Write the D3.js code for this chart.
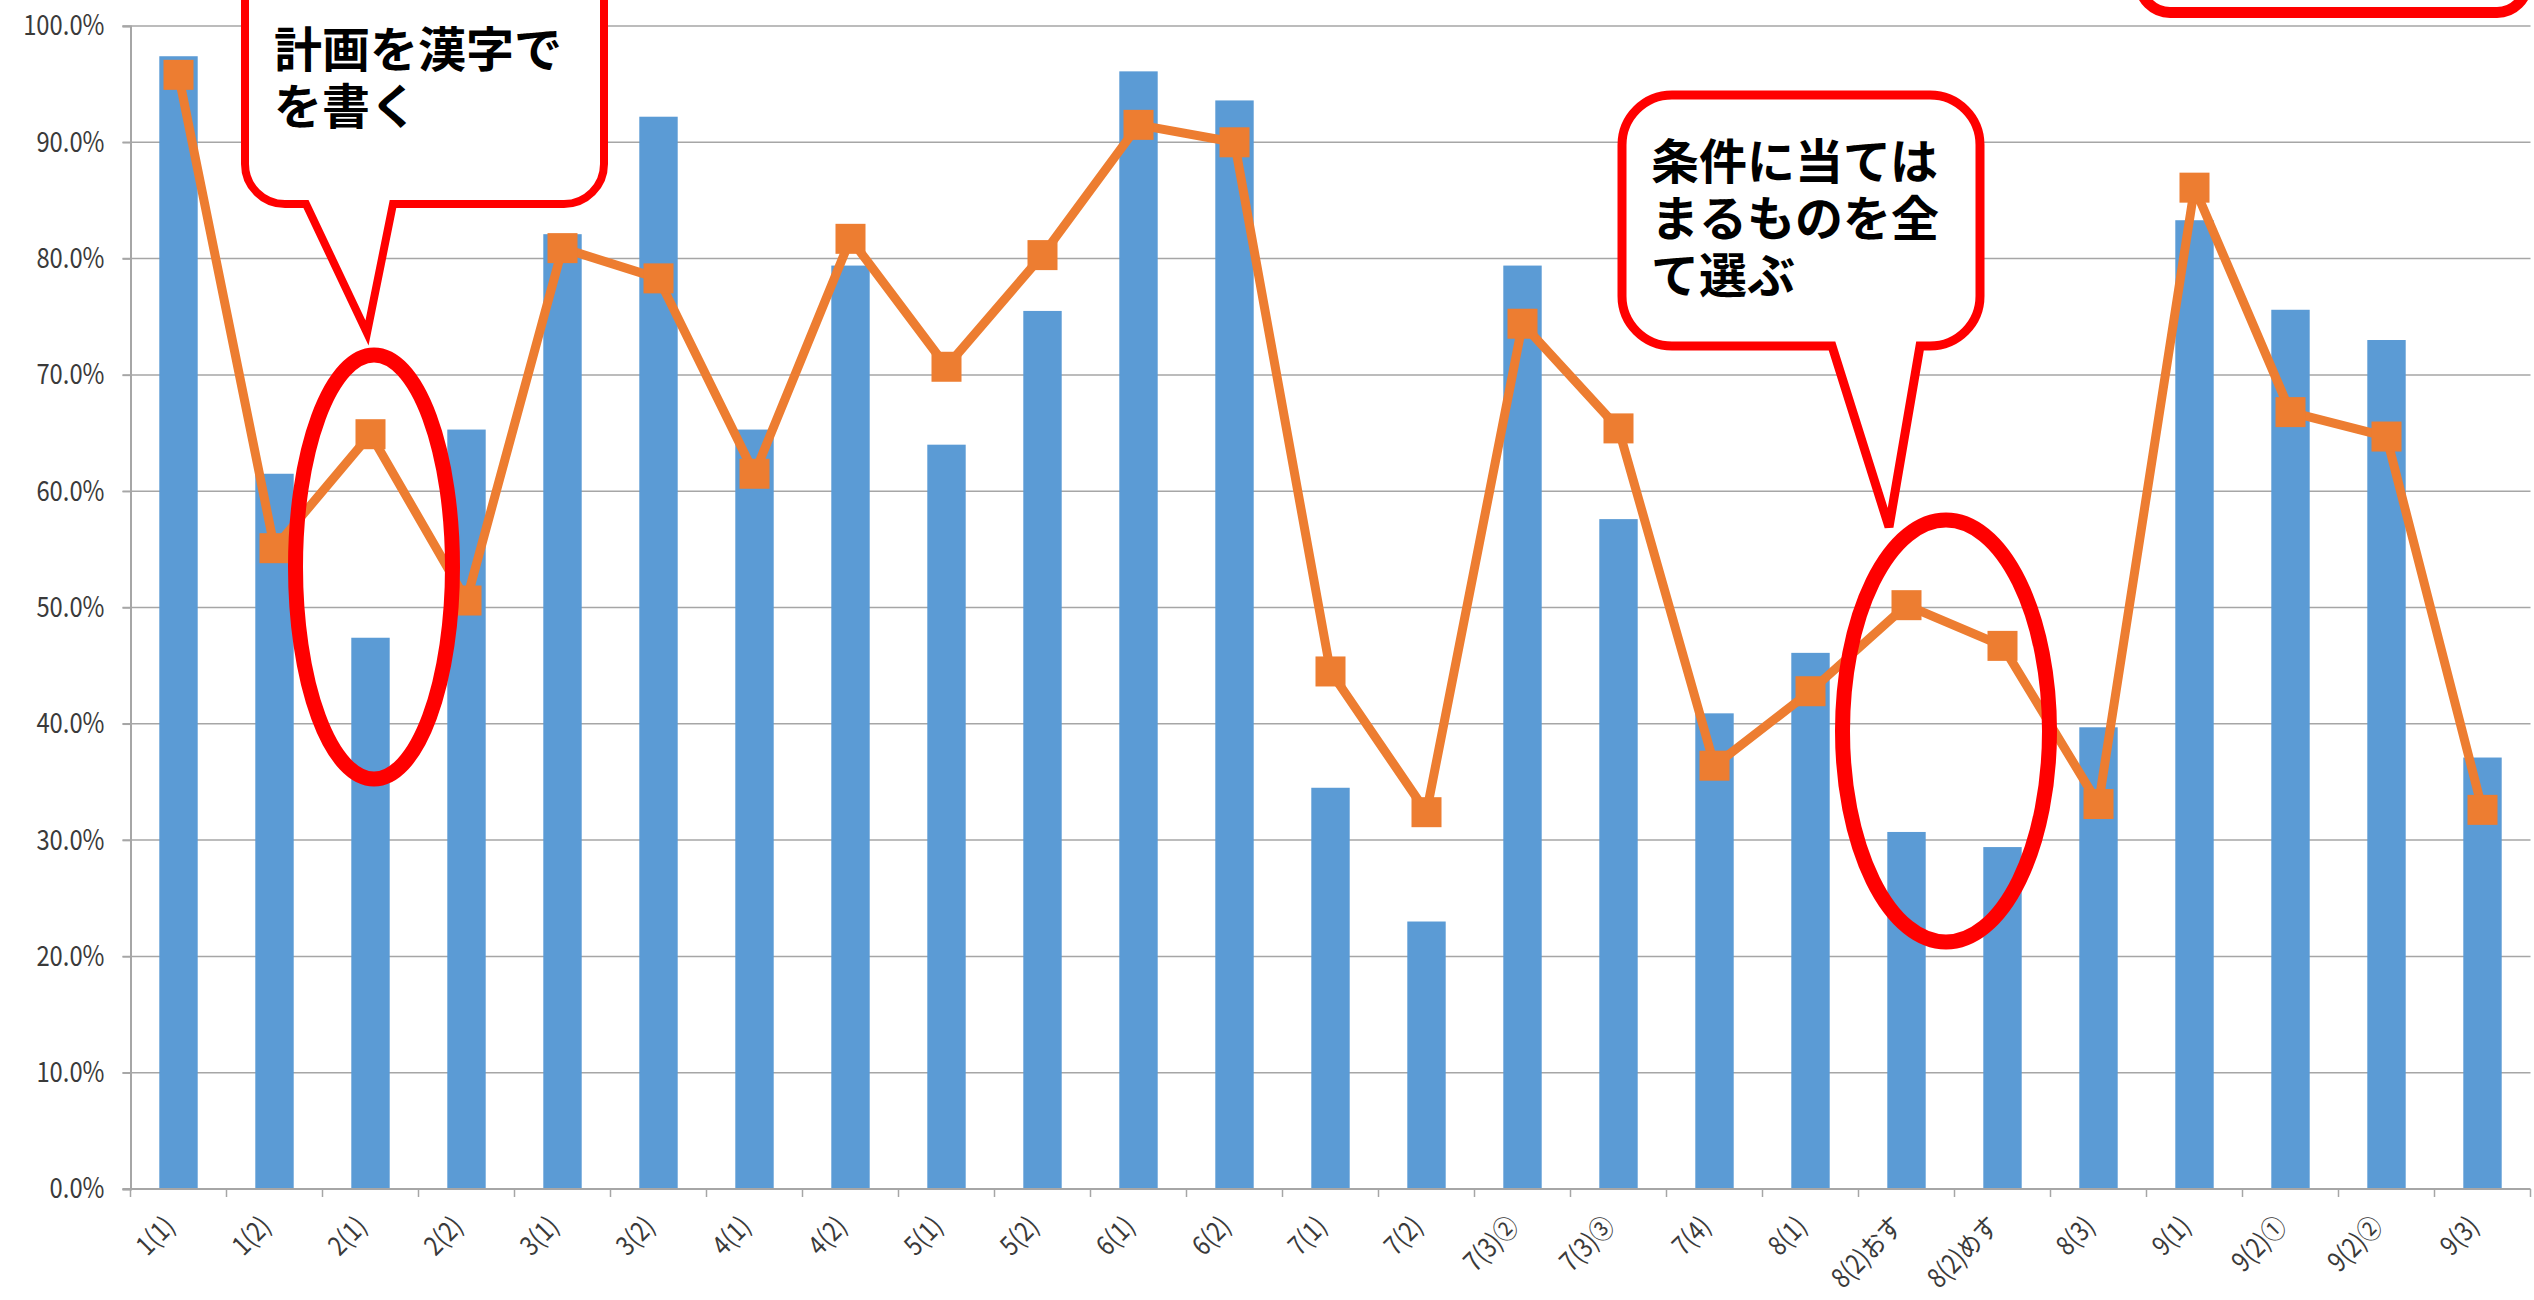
<!DOCTYPE html>
<html>
<head>
<meta charset="utf-8">
<script src="https://cdn.jsdelivr.net/npm/d3@7"></script>
<style>
  html, body { margin: 0; padding: 0; background: #ffffff; }
  svg { display: block; }
  .tick-label { font-family: "Noto Sans CJK JP", "Noto Sans", sans-serif; font-weight: 400; fill: #3a3a3a; }
  .y-label { font-size: 28px; }
  .x-label { font-size: 27px; }
  .callout-text { font-family: "Noto Sans CJK JP", sans-serif; font-weight: 700; font-size: 48px; fill: #000000; }
</style>
</head>
<body>
<script>
// ---- data ----
const categories = ["1(1)","1(2)","2(1)","2(2)","3(1)","3(2)","4(1)","4(2)","5(1)","5(2)",
  "6(1)","6(2)","7(1)","7(2)","7(3)②","7(3)③","7(4)","8(1)","8(2)おす","8(2)めす",
  "8(3)","9(1)","9(2)①","9(2)②","9(3)"];
const barValues = [0.974,0.615,0.474,0.653,0.821,0.922,0.653,0.794,0.640,0.755,
  0.961,0.936,0.345,0.230,0.794,0.576,0.409,0.461,0.307,0.294,
  0.397,0.833,0.756,0.730,0.371];
const lineValues = [0.958,0.551,0.649,0.506,0.809,0.783,0.615,0.817,0.707,0.803,
  0.915,0.900,0.445,0.324,0.744,0.654,0.364,0.428,0.502,0.467,
  0.331,0.861,0.668,0.647,0.326];
const yTickValues = [0,0.1,0.2,0.3,0.4,0.5,0.6,0.7,0.8,0.9,1.0];
const callout1Lines = ["計画を漢字で","を書く"];
const callout2Lines = ["条件に当ては","まるものを全","て選ぶ"];

(function () {
const W = 2534, H = 1300;
const plotLeft = 130.5, plotRight = 2530.5, plotTop = 26, plotBottom = 1189;
const narrow = 0.85;

const svg = d3.select("body").append("svg").attr("width", W).attr("height", H);
svg.append("rect").attr("width", W).attr("height", H).attr("fill", "#fff");

const xSlot = d3.scaleBand().domain(categories).range([plotLeft, plotRight]).padding(0);
const xBar = d3.scaleBand().domain(categories).range([plotLeft, plotRight]).paddingInner(0.6).paddingOuter(0.3);
const y = d3.scaleLinear().domain([0, 1]).range([plotBottom, plotTop]);
const fmt = d3.format(".1%");
const gridColor = "#A6A6A6";

// gridlines
svg.append("g").selectAll("line").data(yTickValues.slice(1)).join("line")
  .attr("x1", plotLeft - 8).attr("x2", plotRight)
  .attr("y1", d => y(d)).attr("y2", d => y(d))
  .attr("stroke", gridColor).attr("stroke-width", 1.5);

// y axis
const yAxis = d3.axisLeft(y).tickValues(yTickValues).tickFormat(fmt).tickSize(8).tickPadding(18);
const gy = svg.append("g").attr("transform", `translate(${plotLeft},0)`).call(yAxis);
gy.attr("font-size", null).attr("font-family", null);
gy.select(".domain").attr("stroke", gridColor).attr("stroke-width", 2);
gy.selectAll(".tick line").attr("stroke", gridColor).attr("stroke-width", 1.5);
gy.selectAll(".tick text").attr("class", "tick-label y-label").attr("fill", null)
  .attr("x", 0).attr("transform", `translate(-26,0) scale(${narrow},1)`);

// bars
svg.append("g").selectAll("rect").data(categories).join("rect")
  .attr("x", d => xBar(d))
  .attr("width", xBar.bandwidth())
  .attr("y", (d, i) => y(barValues[i]))
  .attr("height", (d, i) => plotBottom - y(barValues[i]))
  .attr("fill", "#5B9BD5");

// x axis
svg.append("line").attr("x1", plotLeft - 8).attr("x2", plotRight).attr("y1", plotBottom).attr("y2", plotBottom)
  .attr("stroke", gridColor).attr("stroke-width", 2);
const boundaries = categories.map(c => xSlot(c)).concat([xSlot(categories[categories.length-1]) + xSlot.bandwidth()]);
svg.append("g").selectAll("line").data(boundaries).join("line")
  .attr("x1", d => d).attr("x2", d => d).attr("y1", plotBottom).attr("y2", plotBottom + 8)
  .attr("stroke", gridColor).attr("stroke-width", 1.5);
svg.append("g").selectAll("text").data(categories).join("text")
  .attr("class", "tick-label x-label")
  .attr("text-anchor", "end")
  .attr("transform", d => `translate(${xSlot(d) + xSlot.bandwidth()/2 - 2},${plotBottom + 39}) rotate(-45) scale(${narrow},1)`)
  .text(d => d);

// line series
const cx = d => xSlot(d) + xSlot.bandwidth()/2;
const line = d3.line().x(d => cx(d)).y((d, i) => y(lineValues[i]));
svg.append("path").datum(categories).attr("d", line)
  .attr("fill", "none").attr("stroke", "#ED7D31").attr("stroke-width", 9).attr("stroke-linejoin", "round");
svg.append("g").selectAll("rect").data(categories).join("rect")
  .attr("x", d => cx(d) - 15).attr("y", (d, i) => y(lineValues[i]) - 15)
  .attr("width", 30).attr("height", 30).attr("fill", "#ED7D31");

// ---- annotations ----
const red = "#FF0000";
svg.append("path")
  .attr("d", "M245,-60 L604,-60 L604,164 A40,40 0 0 1 564,204 L393,204 L367,333 L306,204 L285,204 A40,40 0 0 1 245,164 Z")
  .attr("fill", "#fff").attr("stroke", red).attr("stroke-width", 8);
const t1 = svg.append("text").attr("class", "callout-text");
t1.selectAll("tspan").data(callout1Lines).join("tspan")
  .attr("x", 274).attr("y", (d, i) => 67 + i * 57).text(d => d);

svg.append("path")
  .attr("d", "M1672,95 L1930,95 A50,50 0 0 1 1980,145 L1980,296 A50,50 0 0 1 1930,346 L1920,346 L1889,527 L1832,346 L1672,346 A50,50 0 0 1 1622,296 L1622,145 A50,50 0 0 1 1672,95 Z")
  .attr("fill", "#fff").attr("stroke", red).attr("stroke-width", 9);
const t2 = svg.append("text").attr("class", "callout-text");
t2.selectAll("tspan").data(callout2Lines).join("tspan")
  .attr("x", 1651).attr("y", (d, i) => 179 + i * 57).text(d => d);

svg.append("rect").attr("x", 2140).attr("y", -100).attr("width", 387).attr("height", 112.5).attr("rx", 30)
  .attr("fill", "#fff").attr("stroke", red).attr("stroke-width", 11);

svg.append("ellipse").attr("cx", 374).attr("cy", 567).attr("rx", 78.5).attr("ry", 212)
  .attr("fill", "none").attr("stroke", red).attr("stroke-width", 15);
svg.append("ellipse").attr("cx", 1946).attr("cy", 731).attr("rx", 103.5).attr("ry", 211)
  .attr("fill", "none").attr("stroke", red).attr("stroke-width", 15);
})();
</script>
</body>
</html>
